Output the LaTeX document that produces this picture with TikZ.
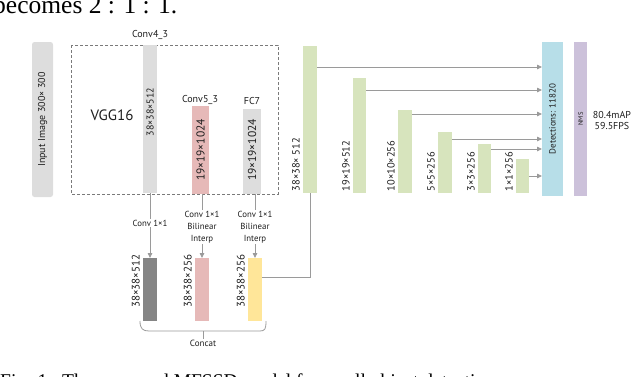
\documentclass[tikz,border=0pt]{standalone}
\usepackage{fontspec}
\setmainfont{PT Sans}
\newfontfamily\pagefont{Liberation Serif}
\usetikzlibrary{arrows.meta,calc}
\definecolor{lgray}{HTML}{DDDDDD}
\definecolor{pinkc}{HTML}{E6B9B8}
\definecolor{greenc}{HTML}{D7E4BD}
\definecolor{bluec}{HTML}{B7DEE8}
\definecolor{lavc}{HTML}{CCC1DA}
\definecolor{yelc}{HTML}{FFE699}
\definecolor{dgray}{HTML}{858585}
\definecolor{linec}{HTML}{9A9A9A}
\definecolor{dashc}{HTML}{7A7A7A}
\definecolor{txt}{HTML}{1E1E1E}
\newcommand\barbox[6]{\node[box,fill=#6,minimum width={(#4-#2)*1pt},minimum height={(#5-#3)*1pt}] (#1) at (#2,#3) {};}
\newcommand\fs[1]{\fontsize{#1}{#1}\selectfont}
\begin{document}
\begin{tikzpicture}[x=1pt,y=-1pt,
  box/.style={draw=none,inner sep=0pt,outer sep=0pt,anchor=north west},
  lbl/.style={inner sep=0.5pt,text=txt},
  rlbl/.style={lbl,rotate=90},
  conn/.style={draw=linec,line width=0.8pt},
  arr/.style={conn,-{Triangle[length=5pt,width=4.5pt]}},
  steplbl/.style={lbl,fill=white,align=center,font=\fontsize{8.8}{12}\selectfont,inner sep=1pt}
]
\useasboundingbox (0,0) rectangle (640,376);
% page text fragments
\begin{scope}
\clip (0,0) rectangle (640,376);
\node[anchor=base west,inner sep=0pt,font=\pagefont\fs{25.5}] (ptop) at (-7,13) {becomes 2 : 1 : 1.};
\node[anchor=base west,inner sep=0pt,font=\pagefont\fs{19.5}] (pbot) at (0,387.5) {Fig. 1.\hspace{10pt}The proposed MFSSD model for small object detection};
\end{scope}

% input image
\node[box,fill=lgray,rounded corners=2.5pt,minimum width=21pt,minimum height=155pt] (inp) at (32,42) {};
\node[rlbl,font=\fs{10}] (inpt) at (inp.center) {Input Image 300× 300};

% VGG16 dashed box
\draw[dashc,line width=0.9pt,dash pattern=on 3pt off 2pt] (71,45) rectangle (278,194);
\node[lbl,font=\fs{15}] (vgg) at (112,115) {VGG16};

\barbox{c43}{143}{45}{157}{193}{lgray}
\barbox{c53}{192}{106}{209}{194}{pinkc}
\barbox{fc7}{243}{109}{261}{194}{lgray}
\node[lbl,font=\fs{10}] (c43l) at (150,35) {Conv4\_3};
\node[lbl,font=\fs{10}] (c53l) at (200,100) {Conv5\_3};
\node[lbl,font=\fs{10}] (fc7l) at (252,101) {FC7};
\node[rlbl,font=\fs{10}] (c43t) at (150,112) {38×38×512};
\node[rlbl,font=\fs{11.5}] (c53t) at (200.5,150) {19×19×1024};
\node[rlbl,font=\fs{11.5}] (fc7t) at (252,150) {19×19×1024};

% extra layers
\barbox{g1}{303}{46}{317}{193}{greenc}
\barbox{g2}{353}{78}{366}{193}{greenc}
\barbox{g3}{398}{110}{412}{193}{greenc}
\barbox{g4}{438}{132}{452}{193}{greenc}
\barbox{g5}{478}{144}{491}{193}{greenc}
\barbox{g6}{516}{159}{529}{193}{greenc}
\foreach \g/\t in {g1/38×38× 512,g2/19×19×512,g3/10×10×256,g4/5×5×256,g5/3×3×256,g6/1×1×256}{
  \node[rlbl,font=\fs{10.5},anchor=south west] (\g t) at ($(\g.south west)+(-2.5,-1)$) {\t};
}
\barbox{det}{542}{42}{563}{196}{bluec}
\barbox{nms}{574}{42}{587}{196}{lavc}
\node[rlbl,font=\fs{9}] (dett) at (det.center) {Detections: 11820};
\node[rlbl,font=\fs{6.5}] (nmst) at (nms.center) {NMS};
\node[lbl,font=\fs{10},align=center] (res) at (612,120.5) {80.4mAP\\[1.5pt]59.5FPS};

\foreach \g/\y in {g1/67,g2/90,g3/114,g4/139,g5/149,g6/176}{
  \draw[arr] (\g.east |- {(0,\y)}) -- (det.west |- {(0,\y)});
}

% fusion module
\barbox{d1}{143}{258}{157}{321}{dgray}
\barbox{d2}{195}{258}{209}{321}{pinkc}
\barbox{d3}{248}{258}{262}{321}{yelc}
\foreach \d/\t in {d1/38×38×512,d2/38×38×256,d3/38×38×256}{
  \node[rlbl,font=\fs{11},anchor=south east] (\d t) at ($(\d.north west)+(-2.5,-4)$) {\t};
}
\draw[arr] (c43.south) -- (d1.north);
\draw[arr] (d2.north |- c53.south) -- (d2.north);
\draw[arr] (d3.north |- fc7.south) -- (d3.north);
\node[steplbl] (s1) at (150,223) {Conv 1×1};
\node[steplbl] (s2) at (202,227) {Conv 1×1\\Bilinear\\Interp};
\node[steplbl] (s3) at (255,227) {Conv 1×1\\Bilinear\\Interp};
\draw[conn] (g1.south) |- ($(d3.north east)+(0,19)$);

% concat brace
\node[lbl,font=\fs{9}] (cat) at (203,343) {Concat};
\draw[conn] ($(d1.south west)+(-3,0)$) .. controls ($(d1.south west)+(-3,8)$) and ($(d1.south west)+(0,10)$) .. ($(d1.south west)+(6,10)$)
  -- ($(d3.south east)+(-2,10)$) .. controls ($(d3.south east)+(3,10)$) and ($(d3.south east)+(4,8)$) .. ($(d3.south east)+(4,0)$);
\draw[conn] (cat.north |- {(0,331)}) -- (cat.north);
\end{tikzpicture}
\end{document}
